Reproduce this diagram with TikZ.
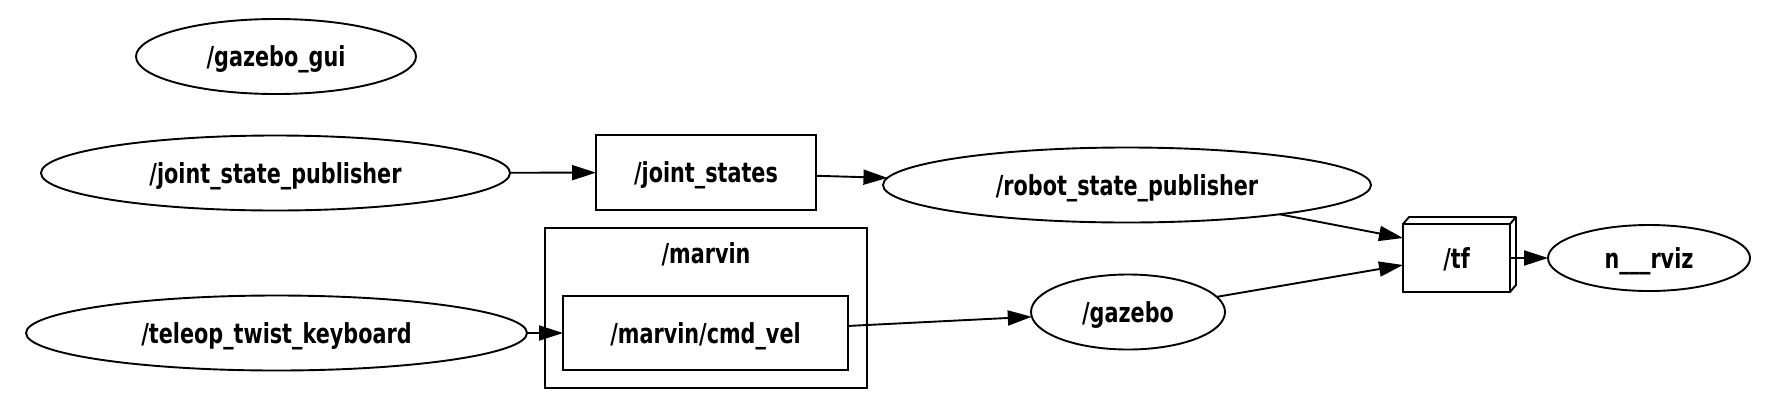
\documentclass[tikz,border=0pt]{standalone}
\usepackage{fontspec}
\newfontfamily\lblfont[FakeStretch=0.755]{DejaVu Sans}
\usetikzlibrary{shapes.geometric,arrows.meta}
\tikzset{
  lbl/.style = {font=\lblfont\bfseries\fontsize{27.5}{30}\selectfont,
                text height=20pt, text depth=0pt, inner sep=0pt},
  nd/.style  = {lbl, draw, ellipse, line width=1.9pt, outer sep=0pt, minimum height=75pt},
  tp/.style  = {lbl, draw, rectangle, line width=1.9pt, outer sep=0pt, minimum height=75pt},
  lnk/.style = {line width=1.9pt, -{Triangle[length=24pt, width=15pt]}}
}

\begin{document}
\begin{tikzpicture}[x=1pt, y=-1pt]
\useasboundingbox (0,0) rectangle (1768,408);
% namespace box
\draw[line width=1.9pt] (545,228) rectangle (867,388);
\node[lbl] (ns) at (706,253) {/marvin};
% nodes
\node[nd, minimum width=280pt] (gui) at (276,56.5) {/gazebo\_gui};
\node[nd, minimum width=469pt] (jsp) at (275.5,173) {/joint\_state\_publisher};
\node[nd, minimum width=501pt] (tel) at (276.5,333) {/teleop\_twist\_keyboard};
\node[nd, minimum width=488pt] (rsp) at (1127,185) {/robot\_state\_publisher};
\node[nd, minimum width=194pt] (gaz) at (1128,312) {/gazebo};
\node[nd, minimum width=202pt, minimum height=66pt] (rviz) at (1649,258) {n\_\_\_rviz};
% topics
\node[tp, minimum width=220pt] (js) at (706,172.5) {/joint\_states};
\node[tp, minimum width=285pt, minimum height=74pt] (cmd) at (705.5,333) {/marvin/cmd\_vel};
\node[tp, minimum width=107pt, minimum height=68pt] (tf) at (1456.5,258) {/tf};
\draw[line width=1.9pt, line join=round] (tf.north west) -- ++(6,-7) -- ++(107,0) -- ++(0,68) -- (tf.south east);
\draw[line width=1.9pt] (tf.north east) -- ++(6,-7);
% links
\draw[lnk] (jsp) -- (js);
\draw[lnk] (js) -- (rsp);
\draw[lnk] (tel) -- (cmd);
\draw[lnk] (cmd) -- (gaz);
\draw[lnk] (rsp) -- ([yshift=20pt]tf.west);
\draw[lnk] (gaz) -- ([yshift=-7pt]tf.west);
\draw[lnk] (tf) -- (rviz);
\end{tikzpicture}
\end{document}
